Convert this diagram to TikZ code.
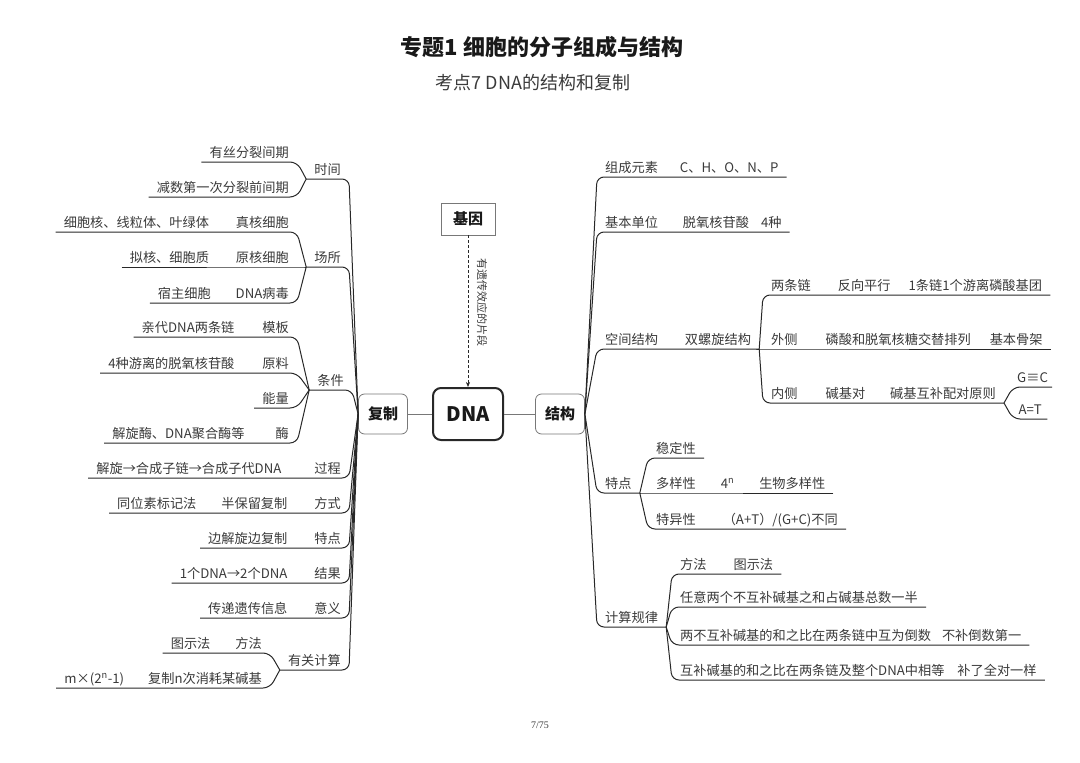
\documentclass[tikz,border=0pt]{standalone}
\usepackage{fontspec}
\usepackage{tikz}
\usetikzlibrary{arrows.meta,positioning}
\setmainfont{Noto Sans CJK SC}
\newfontfamily\pagefont{Liberation Serif}
\definecolor{mmInk}{RGB}{58,58,58}
\definecolor{mmLine}{RGB}{40,40,40}
\definecolor{mmFrame}{RGB}{120,120,120}
\definecolor{mmTitle}{RGB}{25,25,25}
\newcommand{\brgap}[1]{\hspace{#1pt}}
\tikzset{
  lbl/.style={text=mmInk, font=\fontsize{13.2}{15}\selectfont, inner xsep=8pt, inner ysep=2.5pt,
    text height=10.5pt, text depth=2pt},
  lbll/.style={lbl, anchor=south east},
  lblr/.style={lbl, anchor=south west},
  link/.style={draw=mmLine, line width=1pt, rounded corners=7pt},
  hub/.style={draw=mmFrame, line width=0.8pt, rounded corners=6pt, fill=white,
    minimum width=49pt, minimum height=40pt, font=\bfseries\fontsize{15}{17}\selectfont, text=mmTitle},
}

\begin{document}
\begin{tikzpicture}[x=1pt,y=-1pt]
  \useasboundingbox (0,0) rectangle (1080,763);
  \node[font=\bfseries\fontsize{22}{26}\selectfont, text=mmTitle] (ttl) at (542,47) {专题1\ 细胞的分子组成与结构};
  \node[font=\fontsize{18}{22}\selectfont, text=mmInk] (subttl) at (533,83) {考点7 DNA的结构和复制};
  \node[font=\pagefont\fontsize{10}{12}\selectfont, text=mmInk] (pg) at (540,725) {7/75};

  \node[hub] (fuzhi) at (383,414) {复制};
  \node[hub, draw=mmLine, line width=2pt, rounded corners=8pt, minimum width=70pt, minimum height=52pt,
    font=\bfseries\fontsize{20}{24}\selectfont] (dna) at (468,414) {DNA};
  \node[hub] (jiegou) at (560,414) {结构};
  \node[hub, rounded corners=0pt, minimum width=54pt, minimum height=32pt] (jiyin) at (468,219) {基因};
  \draw[mmFrame, line width=1pt] (fuzhi) -- (dna) (dna) -- (jiegou);
  \draw[mmLine, densely dashed, line width=0.6pt, -{Stealth[length=5pt,width=4pt]}] (jiyin) -- (dna);
  \node[rotate=-90, text=mmInk, font=\fontsize{11}{13}\selectfont] (yichuan) at (482,302) {有遗传效应的片段};

  \node[lbll] (sjian) at (349,179) {时间};
  \node[lbll] (csuo) at (349,267) {场所};
  \node[lbll] (tjian) at (352,390) {条件};
  \node[lbll] (gcheng) at (349,478) {解旋→合成子链→合成子代DNA\brgap{33}过程};
  \node[lbll] (fshi) at (349,513) {同位素标记法\brgap{25}半保留复制\brgap{27}方式};
  \node[lbll] (tdian) at (349,548) {边解旋边复制\brgap{27}特点};
  \node[lbll] (jguo) at (349,583) {1个DNA→2个DNA\brgap{27}结果};
  \node[lbll] (yyi) at (349,618) {传递遗传信息\brgap{27}意义};
  \node[lbll] (ygjs) at (349,670) {有关计算};

  \node[lbll] (sj1) at (297,162) {有丝分裂间期};
  \node[lbll] (sj2) at (297,197) {减数第一次分裂前间期};
  \node[lbll] (cs1) at (297,232) {细胞核、线粒体、叶绿体\brgap{27}真核细胞};
  \node[lbll] (cs2) at (297,267) {拟核、细胞质\brgap{27}原核细胞};
  \node[lbll] (cs3) at (297,303) {宿主细胞\brgap{25}DNA病毒};
  \node[lbll] (tj1) at (297,337) {亲代DNA两条链\brgap{28}模板};
  \node[lbll] (tj2) at (297,373) {4种游离的脱氧核苷酸\brgap{28}原料};
  \node[lbll] (tj3) at (297,408) {能量};
  \node[lbll] (tj4) at (297,443) {解旋酶、DNA聚合酶等\brgap{31}酶};
  \node[lbll] (ys1) at (270,653) {图示法\brgap{25}方法};
  \node[lbll] (ys2) at (270,688) {m×(2\textsuperscript{n}-1)\brgap{24}复制n次消耗某碱基};

  \foreach \b in {sjian,csuo,tjian,gcheng,fshi,tdian,jguo,yyi,ygjs}
    \draw[link] (\b.south west) -- (\b.south east) -- (fuzhi.west);
  \foreach \b/\p in {sj1/sjian,sj2/sjian,cs1/csuo,cs2/csuo,cs3/csuo,tj1/tjian,tj2/tjian,tj3/tjian,tj4/tjian,ys1/ygjs,ys2/ygjs}
    \draw[link] (\b.south west) -- (\b.south east) -- (\p.south west);

  \node[lblr] (zcys) at (597,177) {组成元素\brgap{22}C、H、O、N、P};
  \node[lblr] (jbdw) at (597,232) {基本单位\brgap{25}脱氧核苷酸\brgap{12}4种};
  \node[lblr] (kjjg) at (597,349) {空间结构\brgap{27}双螺旋结构};
  \node[lblr] (tdr) at (597,493) {特点};
  \node[lblr] (jsgl) at (597,627) {计算规律};

  \node[lblr] (kj1) at (763,295) {两条链\brgap{27}反向平行\brgap{18}1条链1个游离磷酸基团};
  \node[lblr] (kj2) at (763,349) {外侧\brgap{28}磷酸和脱氧核糖交替排列\brgap{19}基本骨架};
  \node[lblr] (kj3) at (763,403) {内侧\brgap{28}碱基对\brgap{25}碱基互补配对原则};
  \node[lblr, inner xsep=4pt, minimum width=34pt] (bp1) at (1013,387) {G≡C};
  \node[lblr, inner xsep=4pt, minimum width=34pt] (bp2) at (1013,419) {A=T};
  \node[lblr] (td1) at (648,458) {稳定性};
  \node[lblr] (td2) at (648,493) {多样性\brgap{25}4\textsuperscript{n}\brgap{25}生物多样性};
  \node[lblr] (td3) at (648,529) {特异性\brgap{27}（A+T）/(G+C)不同};
  \node[lblr] (js1) at (672,574) {方法\brgap{27}图示法};
  \node[lblr] (js2) at (672,607) {任意两个不互补碱基之和占碱基总数一半};
  \node[lblr] (js3) at (672,645) {两不互补碱基的和之比在两条链中互为倒数\brgap{11}不补倒数第一};
  \node[lblr] (js4) at (672,680) {互补碱基的和之比在两条链及整个DNA中相等\brgap{13}补了全对一样};

  \foreach \b in {zcys,jbdw,kjjg,tdr,jsgl}
    \draw[link] (\b.south east) -- (\b.south west) -- (jiegou.east);
  \foreach \b/\p in {kj1/kjjg,kj2/kjjg,kj3/kjjg,bp1/kj3,bp2/kj3,td1/tdr,td2/tdr,td3/tdr,js1/jsgl,js2/jsgl,js3/jsgl,js4/jsgl}
    \draw[link] (\b.south east) -- (\b.south west) -- (\p.south east);
\end{tikzpicture}
\end{document}
